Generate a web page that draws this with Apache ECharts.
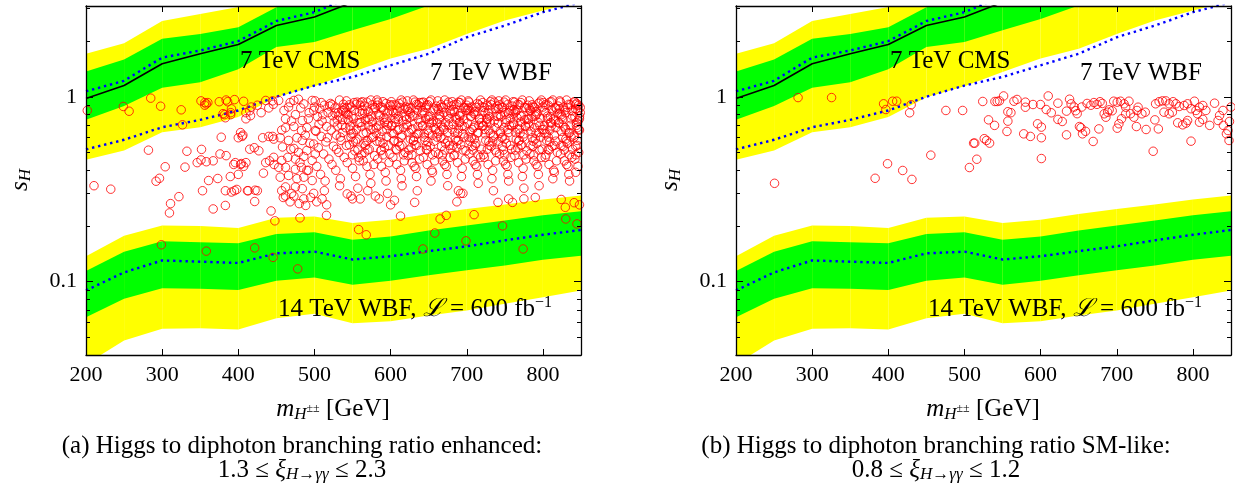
<!DOCTYPE html>
<html><head><meta charset="utf-8">
<script src="https://cdn.jsdelivr.net/npm/echarts@6/dist/echarts.min.js"></script>
<style>html,body{margin:0;padding:0;background:#fff}#c{width:1235px;height:485px}</style>
</head><body><div id="c"></div>
<script>
// ---- data ----
const massGrid = [200,250,300,350,400,450,500,550,600,650,700,750,800,850];
// 7 TeV CMS bands
const cmsYellowHi = [1.71,1.95,2.57,2.81,3.06,3.6,4.0,4.5,5.0,5.6,6.2,6.8,7.4,8.0];
const cmsGreenHi  = [1.37,1.59,2.06,2.19,2.38,3.05,3.4,3.8,4.2,4.7,5.2,5.7,6.2,6.8];
const cmsGreenLo  = [0.75,0.89,1.12,1.20,1.41,1.86,1.98,2.29,2.64,3.12,3.6,4.1,4.6,5.1];
const cmsYellowLo = [0.456,0.512,0.643,0.684,0.776,0.995,1.14,1.36,1.61,1.82,2.19,2.59,2.93,3.3];
const cmsObserved = [0.98,1.15,1.51,1.71,1.92,2.43,2.70,3.25,3.8,4.3,4.8,5.3,5.8,6.3];
const cmsExpected = [1.07,1.22,1.63,1.78,2.0,2.57,2.87,3.5,4.0,4.5,5.0,5.5,6.0,6.5];
// 7 TeV WBF expected
const wbf7Expected = [0.519,0.585,0.684,0.75,0.843,1.0,1.15,1.28,1.48,1.71,2.10,2.43,2.87,3.25];
// 14 TeV WBF bands
const wbf14YellowHi = [0.137,0.177,0.201,0.1995,0.195,0.221,0.225,0.207,0.216,0.232,0.247,0.261,0.278,0.292];
const wbf14GreenHi  = [0.114,0.145,0.165,0.163,0.161,0.181,0.185,0.168,0.175,0.189,0.201,0.214,0.228,0.240];
const wbf14Expected = [0.0894,0.112,0.130,0.128,0.126,0.142,0.145,0.1315,0.137,0.146,0.155,0.167,0.179,0.190];
const wbf14GreenLo  = [0.064,0.0806,0.092,0.0913,0.090,0.101,0.105,0.096,0.101,0.108,0.115,0.122,0.131,0.138];
const wbf14YellowLo = [0.0357,0.0479,0.0555,0.0559,0.055,0.0633,0.0668,0.0595,0.061,0.0655,0.0697,0.0757,0.0822,0.0894];

// scan points, panel (a): enhanced diphoton ratio  [m_H++ (GeV), s_H]
const pointsEnhanced = [
[201.7,.843],[210.5,.33],[232.5,.316],[249,.886],[256.6,.835],[285,.983],[282,.514],[298,.889],[292,.349],[296.5,.362],
[304,.418],[299,.158],[311,.264],[309.6,.235],[322,.288],[325,.85],[326.7,.705],[332.5,.507],[330,.416],[346,.44],
[351,.455],[358,.445],[367,.45],[351.7,.519],[353,.31],[351,.95],[356,.93],[360,.93],[356,.9],[358,.915],
[361,.352],[358,.146],[367,.247],[373,.361],[375,.94],[384,.96],[386,.94],[395,.965],[407,.945],[380,.81],
[382,.8],[390,.82],[377.6,.604],[376,.49],[384,.48],[389.5,.37],[400,.38],[394,.43],[407,.42],[404,.435],
[383,.31],[391,.305],[395,.31],[398,.315],[383,.258],[412,.31],[422,.312],[425,.31],[421.5,.271],[400,.6],
[406,.62],[403,.64],[410,.82],[415,.84],[417,.88],[445,.95],
[410,.76],[416,.79],[436,.955],[383,.77],[390,.8],[391,.86],[405,.61],[396,.44],[403,.43],[410,.44],
[413,.31],[415,.52],[421,.53],[427,.51],[433,.386],[432,.60],[440,.61],[445,.61],[436,.44],[441,.45],
[447,.43],[443,.241],[448,.213],[457,.31],[462,.29],[468,.27],[470,.30],[480,.264],[488.5,.258],[481,.221],
[478,.117],[503,.27],[510,.28],[516,.26],[515.8,.228],[421.5,.152],[445.6,.135],[440,.87],[446,.91],[430,.82],[425,.90],
[453,.955],[460,.843],[466,.88],[473,.955],[479,.97],[486,.915],[497,.955],[499,.843],[462,.76],[475,.80],
[484,.744],[492,.76],[462,.68],[473,.69],[483,.657],[490,.68],[501,.657],[446.5,.59],[455,.60],[466,.58],
[477,.60],[484,.58],[499,.555],[458,.535],[473,.525],[479,.50],[490,.512],[501,.49],[446.5,.47],[457,.452],
[465,.47],[475,.46],[486,.475],[497,.452],[453,.415],[462,.415],[475,.405],[483,.415],[490,.399],[455,.367],
[466,.375],[477,.36],[486,.367],[497,.352],[462,.325],[475,.325],[484,.318],[499,.30],[459,.285],[473,.29],[486,.28],[495,.285],
[468,.93],[482,.87],[493,.82],[470,.74],[488,.62],[494,.56],[481,.44],[469,.52],[457,.66],[492,.40],
[558,.191],[568,.179],[613,.226],[665,.218],[673,.228],[709.6,.23],[658,.183],[642.5,.150],[699,.166],[747,.20],
[774,.150],[824,.278],[841,.267],[848,.26],[829.4,.252],[830,.218],[844.7,.205],[631.6,.268],[755,.28],[760,.268],
[775,.28],[790,.285],[741,.268],[687,.27],[692,.30],[689,.31],[560,.28],[543,.298],[550,.28],[585,.28],[600,.26],
[605,.275],[570,.31],[580,.29],
[501,.95],[513,.90],[507,.86],[518,.82],[504,.78],[510,.74],[516,.69],[502,.65],[509,.61],[515,.57],[505,.53],[512,.49],[519,.46],[503,.42],[508,.38],[514,.35],[500,.88],[511,.80],[517,.60],[506,.71],[513,.31],[509,.93],
[521,.92],[533,.96],[527,.87],[538,.84],[524,.79],[530,.75],[536,.70],[522,.66],[529,.62],[535,.58],[525,.54],[532,.50],[539,.47],[523,.43],[528,.40],[534,.36],[520,.89],[531,.82],[537,.64],[526,.73],[533,.33],[529,.52],[538,.91],
[542,.95],[555,.91],[548,.88],[559,.83],[544,.80],[551,.76],[557,.72],[541,.68],[549,.63],[556,.59],[546,.55],[553,.51],[558,.47],[543,.44],[550,.41],[554,.37],[540,.86],[552,.93],[547,.66],[545,.74],[557,.32],[551,.57],[559,.45],[548,.29],
[561,.93],[574,.96],[566,.89],[578,.85],[563,.81],[570,.77],[576,.73],[562,.69],[568,.64],[575,.60],[565,.56],[572,.52],[579,.48],[564,.45],[569,.42],[573,.38],[560,.90],[571,.83],[577,.67],[567,.75],[574,.34],[570,.58],[578,.43],[563,.94],[566,.50],
[582,.96],[594,.92],[587,.88],[598,.84],[584,.80],[591,.77],[597,.72],[581,.68],[589,.65],[595,.61],[586,.57],[592,.53],[599,.49],[583,.46],[588,.42],[593,.39],[580,.87],[590,.94],[596,.70],[585,.74],[594,.35],[590,.56],[598,.44],[583,.90],[587,.51],[596,.30],
[601,.94],[614,.96],[607,.90],[618,.86],[604,.82],[610,.78],[616,.74],[602,.70],[609,.66],[615,.62],[605,.58],[612,.54],[619,.50],[603,.47],[608,.43],[613,.40],[600,.89],[611,.92],[617,.68],[606,.76],[614,.36],[610,.57],[618,.45],[602,.84],[607,.52],[615,.33],[604,.63],
[622,.95],[634,.91],[627,.87],[638,.93],[624,.83],[631,.79],[637,.75],[621,.71],[629,.67],[635,.63],[626,.59],[632,.55],[639,.51],[623,.48],[628,.44],[633,.41],[620,.88],[630,.96],[636,.69],[625,.77],[634,.37],[630,.58],[638,.46],[622,.85],[627,.53],[635,.31],[624,.64],[631,.42],
[641,.93],[653,.96],[647,.90],[658,.86],[644,.82],[650,.78],[656,.74],[642,.70],[649,.66],[655,.62],[645,.58],[652,.54],[659,.50],[643,.47],[648,.43],[654,.40],[640,.88],[651,.94],[657,.68],[646,.76],[653,.35],[649,.57],[658,.45],[642,.84],[647,.52],[655,.39],[644,.63],[651,.72],
[662,.95],[674,.91],[667,.88],[678,.84],[664,.80],[671,.96],[677,.76],[661,.72],[669,.68],[675,.64],[666,.60],[672,.56],[679,.52],[663,.49],[668,.45],[673,.42],[660,.89],[670,.82],[676,.70],[665,.78],[674,.38],[670,.59],[678,.47],[662,.86],[667,.54],[675,.33],[664,.65],[671,.43],
[681,.94],[693,.96],[687,.91],[698,.87],[684,.83],[690,.79],[696,.75],[682,.71],[689,.67],[695,.63],[685,.59],[692,.55],[699,.51],[683,.48],[688,.44],[694,.41],[680,.89],[691,.93],[697,.69],[686,.77],[693,.37],[689,.58],[698,.46],[682,.85],[687,.53],[695,.30],[684,.64],[691,.73],
[702,.95],[714,.92],[707,.88],[718,.96],[704,.84],[711,.80],[717,.76],[701,.72],[709,.68],[715,.64],[706,.60],[712,.56],[719,.52],[703,.49],[708,.45],[713,.42],[700,.90],[710,.83],[716,.70],[705,.78],[714,.38],[710,.59],[718,.47],[702,.87],[707,.54],[715,.34],[704,.65],[711,.43],
[721,.93],[733,.96],[727,.90],[738,.86],[724,.82],[730,.78],[736,.74],[722,.70],[729,.66],[735,.62],[725,.58],[732,.54],[739,.50],[723,.47],[728,.43],[734,.40],[720,.88],[731,.94],[737,.68],[726,.76],[733,.36],[729,.57],[738,.45],[722,.84],[727,.52],[735,.31],[724,.63],[731,.72],
[742,.95],[754,.91],[747,.88],[758,.84],[744,.80],[751,.96],[757,.76],[741,.72],[749,.68],[755,.64],[746,.60],[752,.56],[759,.52],[743,.49],[748,.45],[753,.42],[740,.89],[750,.82],[756,.70],[745,.78],[754,.38],[750,.59],[758,.47],[742,.86],[747,.54],[755,.35],[744,.65],[751,.43],
[761,.94],[773,.96],[767,.91],[778,.87],[764,.83],[770,.79],[776,.75],[762,.71],[769,.67],[775,.63],[765,.59],[772,.55],[779,.51],[763,.48],[768,.44],[774,.41],[760,.89],[771,.93],[777,.69],[766,.77],[773,.37],[769,.58],[778,.46],[762,.85],[767,.53],[775,.32],[764,.64],[771,.73],
[782,.95],[794,.92],[787,.88],[798,.96],[784,.84],[791,.80],[797,.76],[781,.72],[789,.68],[795,.64],[786,.60],[792,.56],[799,.52],[783,.49],[788,.45],[793,.42],[780,.90],[790,.83],[796,.70],[785,.78],[794,.38],[790,.59],[798,.47],[782,.87],[787,.54],[795,.33],[784,.65],[791,.43],
[801,.93],[813,.96],[807,.90],[818,.86],[804,.82],[810,.78],[816,.74],[802,.70],[809,.66],[815,.62],[805,.58],[812,.54],[819,.50],[803,.47],[808,.43],[814,.40],[800,.88],[811,.94],[817,.68],[806,.76],[813,.36],[809,.57],[818,.45],[802,.84],[807,.52],[815,.39],[804,.63],[811,.72],
[822,.95],[834,.91],[827,.88],[838,.84],[824,.80],[831,.96],[837,.76],[821,.72],[829,.68],[835,.64],[826,.60],[832,.56],[839,.52],[823,.49],[828,.45],[833,.42],[820,.89],[830,.82],[836,.70],[825,.78],[834,.38],[830,.59],[838,.47],[822,.86],[827,.54],[835,.35],[824,.65],[831,.43],
[841,.94],[847,.90],[843,.86],[849,.82],[842,.78],[846,.74],[844,.70],[848,.66],[841,.62],[845,.58],[843,.54],[847,.50],[842,.46],[846,.42],[844,.92],[848,.76],[845,.68],[843,.39],
[523,.905],[536,.845],[532,.785],[539,.875],[534,.605],[527,.815],[537,.755],[530,.695],
[543,.875],[556,.935],[549,.785],[552,.845],[546,.905],[559,.725],[541,.815],[554,.575],[547,.695],[551,.635],[557,.515],[544,.755],[550,.485],[555,.665],[542,.545],[548,.605],
[563,.845],[576,.905],[569,.935],[572,.755],[566,.815],[579,.875],[561,.725],[574,.665],[567,.545],[571,.695],[577,.605],[564,.635],[570,.515],[575,.785],[562,.485],[568,.575],
[583,.935],[596,.815],[589,.875],[592,.725],[586,.785],[599,.905],[581,.635],[594,.755],[587,.605],[591,.845],[597,.545],[584,.695],[590,.485],[595,.665],[582,.575],[588,.515],
[603,.905],[616,.935],[609,.845],[612,.875],[606,.725],[619,.785],[601,.695],[614,.605],[607,.815],[611,.665],[617,.485],[604,.575],[610,.755],[615,.545],[602,.635],[608,.515],
[623,.875],[636,.905],[629,.785],[632,.935],[626,.815],[639,.725],[621,.755],[634,.545],[627,.665],[631,.605],[637,.635],[624,.515],[630,.575],[635,.845],[622,.695],[628,.485],
[643,.935],[656,.845],[649,.905],[652,.785],[646,.875],[659,.665],[641,.815],[654,.725],[647,.545],[651,.755],[657,.575],[644,.605],[650,.635],[655,.485],[642,.695],[648,.515],
[663,.845],[676,.935],[669,.875],[672,.725],[666,.905],[679,.815],[661,.605],[674,.785],[667,.695],[671,.515],[677,.545],[664,.755],[670,.665],[675,.575],[662,.635],[668,.485],
[683,.905],[696,.875],[689,.935],[692,.815],[686,.755],[699,.845],[681,.665],[694,.695],[687,.575],[691,.785],[697,.605],[684,.485],[690,.725],[695,.515],[682,.545],[688,.635],
[703,.935],[716,.905],[709,.815],[712,.875],[706,.785],[719,.725],[701,.845],[714,.635],[707,.665],[711,.545],[717,.755],[704,.575],[710,.695],[715,.485],[702,.605],[708,.515],
[723,.875],[736,.935],[729,.845],[732,.905],[726,.725],[739,.785],[721,.695],[734,.575],[727,.755],[731,.635],[737,.515],[724,.665],[730,.545],[735,.605],[722,.485],[728,.815],
[743,.905],[756,.845],[749,.935],[752,.755],[746,.875],[759,.695],[741,.785],[754,.665],[747,.605],[751,.725],[757,.545],[744,.635],[750,.485],[755,.815],[742,.575],[748,.515],
[763,.935],[776,.875],[769,.905],[772,.785],[766,.845],[779,.755],[761,.725],[774,.605],[767,.665],[771,.545],[777,.695],[764,.515],[770,.635],[775,.485],[762,.815],[768,.575],
[783,.845],[796,.935],[789,.875],[792,.815],[786,.905],[799,.665],[781,.755],[794,.725],[787,.575],[791,.635],[797,.605],[784,.545],[790,.785],[795,.515],[782,.695],[788,.485],
[803,.905],[816,.875],[809,.935],[812,.845],[806,.785],[819,.815],[801,.665],[814,.755],[807,.605],[811,.695],[817,.575],[804,.485],[810,.725],[815,.545],[802,.635],[808,.515],
[823,.935],[836,.905],[829,.845],[832,.875],[826,.755],[839,.785],[821,.725],[834,.635],[827,.695],[831,.575],[837,.605],[824,.545],[830,.665],[835,.485],[822,.815],[828,.515],
[843,.905],[846,.845],[842,.935],[848,.785],[844,.725],[847,.665],[841,.605],[845,.545],[849,.875],[843,.485]
];
// scan points, panel (b): SM-like diphoton ratio
const pointsSMlike = [
[250.6,.34],[281.5,.99],[325.5,.99],[382.7,.362],[393.8,.916],[396.8,.853],[399,.434],[405.7,.946],[411,.946],[418.9,.399],
[428,.819],[430,.905],[431,.357],[455.8,.483],[475.6,.843],[497.6,.843],[506.5,.414],[512,.561],[513.5,.561],[516.2,.459],
[524,.943],[526,.593],[529,.58],[533,.561],[531.6,.75],[539.5,.70],[540,.943],[543,.943],[546,.95],[551.4,1.01],
[555.8,.649],[557,.83],[561,.82],[557,.738],[565,.946],[569,.967],[577.8,.63],[580,.935],[580,.878],[586.6,.61],
[590,.908],[596,.714],[601,.685],[599.8,.908],[601,.60],[601,.463],[607.3,.853],[610,1.01],[614,.819],[622.7,.923],
[622.7,.754],[628.4,.735],[634,.622],[634,.836],[638,.97],[640,.916],[644,.88],[646,.84],[648,.81],[651,.69],
[653,.68],[655,.63],[659,.65],[654,.88],[661,.92],[666,.90],[670,.93],[674,.91],[678,.94],[681,.92],
[669,.573],[676.5,.67],[683.5,.809],[688,.825],[690,.85],[694,.84],[685.7,.775],[696,.946],[700.6,.935],[705,.946],
[709.5,.916],[711.7,.878],[716,.946],[700.6,.676],[702.8,.714],[706.3,.76],[711.7,.809],[718,.809],[722.5,.775],[725.8,.69],
[728,.878],[726.6,.843],[733,.809],[737.4,.825],[738.5,.665],[747.8,.507],[750,.75],[754.6,.67],[751,.916],[755.6,.94],
[760,.95],[764.4,.95],[768.8,.916],[774,.94],[777.7,.916],[762,.825],[768.8,.809],[773,.825],[780,.723],[786.6,.705],
[791,.72],[793,.744],[782,.886],[788.5,.897],[793,.916],[797.5,.861],[802,.946],[804,.843],[806,.809],[797.5,.575],
[808.6,.878],[813,.897],[817,.843],[822,.70],[808.6,.728],[813,.754],[828.4,.923],[833,.744],[835,.792],[839.5,.843],
[840,.70],[844,.63],[846,.657],[847.4,.58],[848,.735],[850,.88],[852,.91]
];
const xTickLabels = [200,300,400,500,600,700,800];
const xTickMarks = [300,400,500,600,700,800];
const yTickLabels = [0.1,1];
const yMinorTicks = [0.05,0.06,0.07,0.08,0.09,0.2,0.3,0.4,0.5,0.6,0.7,0.8,0.9,2,3];

// ---- chart ----
const FONT = "'Liberation Serif','DejaVu Serif',serif";
const pair = arr => massGrid.map((m,i)=>[m,arr[i]]);

function band(lo, hi, color, gi) {
  return {
    type:'custom', xAxisIndex: gi*2, yAxisIndex: gi*4, silent:true, z:1,
    data:[[500,1]], encode:{x:0,y:1},
    renderItem(params, api) {
      const cs = params.coordSys;
      const children = [];
      for (let i=0;i<massGrid.length-1;i++){
        const pts=[api.coord([massGrid[i],lo[i]]), api.coord([massGrid[i+1],lo[i+1]]),
                   api.coord([massGrid[i+1],hi[i+1]]), api.coord([massGrid[i],hi[i]])];
        children.push({type:'polygon', shape:{points:pts}, style:{fill:color}});
      }
      return {type:'group', children,
        clipPath:{type:'rect', shape:{x:cs.x,y:cs.y,width:cs.width,height:cs.height}}};
    }
  };
}
function curve(arr, gi, style) {
  return {type:'line', xAxisIndex: gi*2, yAxisIndex: gi*4, data: pair(arr), showSymbol:false,
    symbol:'none', silent:true, z:2, lineStyle: style, clip:true};
}
const dotted = {color:'#0000ff', width:2.4, type:[2.4,3.8], cap:'butt'};
const solid = {color:'#000', width:1.6};

function xAxes(gi) {
  const base = {gridIndex:gi, type:'value', min:200, max:850, z:10, splitLine:{show:false},
    axisLine:{show:true, onZero:false, lineStyle:{color:'#000', width:1.3}},
    axisTick:{show:true, inside:true, length:6, customValues:xTickMarks, lineStyle:{color:'#000', width:1}}};
  return [
    Object.assign({}, base, {position:'bottom',
      axisLabel:{show:true, customValues:xTickLabels, color:'#000', fontFamily:FONT, fontSize:22, margin:9}}),
    Object.assign({}, base, {position:'top', axisLabel:{show:false}})
  ];
}
function yAxes(gi) {
  const base = {gridIndex:gi, type:'log', logBase:10, min:0.04, max:3.1, z:10, splitLine:{show:false},
    minorTick:{show:false}, minorSplitLine:{show:false}};
  const major = pos => Object.assign({}, base, {position:pos,
    axisLine:{show:true, onZero:false, lineStyle:{color:'#000', width:1.3}},
    axisTick:{show:true, inside:true, length:7, customValues:yTickLabels, lineStyle:{color:'#000'}},
    axisLabel: pos==='left' ? {show:true, customValues:yTickLabels, color:'#000', fontFamily:FONT, fontSize:22, margin:9,
      formatter: v => String(+(+v).toPrecision(3))} : {show:false}});
  const minor = pos => Object.assign({}, base, {position:pos, offset:0,
    axisLine:{show:false},
    axisTick:{show:true, inside:true, length:4, customValues:yMinorTicks, lineStyle:{color:'#000'}},
    axisLabel:{show:false}});
  return [major('left'), minor('left'), major('right'), minor('right')];
}

const series = [];
[0,1].forEach(gi => {
  series.push(band(cmsYellowLo, cmsYellowHi, '#ffff00', gi));
  series.push(band(cmsGreenLo, cmsGreenHi, '#00ff00', gi));
  series.push(band(wbf14YellowLo, wbf14YellowHi, '#ffff00', gi));
  series.push(band(wbf14GreenLo, wbf14GreenHi, '#00ff00', gi));
  series.push(curve(cmsObserved, gi, solid));
  series.push(curve(cmsExpected, gi, dotted));
  series.push(curve(wbf7Expected, gi, dotted));
  series.push(curve(wbf14Expected, gi, dotted));
  series.push({type:'scatter', xAxisIndex: gi*2, yAxisIndex: gi*4, z:3, silent:true, clip:true,
    data: gi===0 ? pointsEnhanced : pointsSMlike, symbol:'circle', symbolSize:8.5,
    itemStyle:{color:'rgba(0,0,0,0)', borderColor:'#ff0000', borderWidth:1}});
});

function txt(x, y, text, opts) {
  return {type:'text', x, y, z:20, silent:true,
    style: Object.assign({text, fill:'#000', font:`25px ${FONT}`, verticalAlign:'middle', align:'left'}, opts||{})};
}
const richMain = {
  i:{fontFamily:FONT, fontStyle:'italic', fontSize:25, lineHeight:28},
  sup:{fontFamily:FONT, fontSize:16, verticalAlign:'top', lineHeight:15},
  sub:{fontFamily:FONT, fontStyle:'italic', fontSize:17, verticalAlign:'bottom', lineHeight:16},
  pm:{fontFamily:FONT, fontSize:12, verticalAlign:'middle', lineHeight:12},
  n:{fontFamily:FONT, fontSize:25, lineHeight:28}
};
const graphics = [];
[0, 650].forEach((dx, k) => {
  graphics.push(txt(240+dx, 61, '7 TeV CMS'));
  graphics.push(txt(430+dx, 73, '7 TeV WBF'));
  graphics.push({type:'text', x:278+dx, y:309, z:20, silent:true,
    style:{text:'{n|14 TeV WBF, }{i|ℒ}{n| = 600 fb}{sup|−1}', rich:richMain, verticalAlign:'middle', align:'left', fill:'#000'}});
  graphics.push({type:'text', x:333+dx, y:409, z:20, silent:true,
    style:{text:'{i|m}{sub|H}{pm|±±}{n| [GeV]}', rich:richMain, verticalAlign:'middle', align:'center', fill:'#000'}});
  graphics.push({type:'text', x:20+dx, y:180, z:20, silent:true, rotation:Math.PI/2,
    style:{text:'{i|s}{sub|H}', rich:richMain, verticalAlign:'middle', align:'center', fill:'#000'}});
  const cx = k===0 ? 302 : 936;
  graphics.push(txt(cx, 446, k===0 ? '(a) Higgs to diphoton branching ratio enhanced:' : '(b) Higgs to diphoton branching ratio SM-like:',
    {align:'center', font:`25px ${FONT}`}));
  graphics.push({type:'text', x:cx, y:470, z:20, silent:true,
    style:{text: k===0 ? '{n|1.3 ≤ }{i|ξ}{sub|H→γγ}{n| ≤ 2.3}' : '{n|0.8 ≤ }{i|ξ}{sub|H→γγ}{n| ≤ 1.2}',
      rich:{i:{fontFamily:FONT, fontStyle:'italic', fontSize:25, lineHeight:26}, n:{fontFamily:FONT, fontSize:25, lineHeight:26},
        sub:{fontFamily:FONT, fontStyle:'italic', fontSize:17, verticalAlign:'bottom', lineHeight:15}},
      verticalAlign:'middle', align:'center', fill:'#000'}});
});

const chart = echarts.init(document.getElementById('c'), null, {renderer:'canvas'});
chart.setOption({
  animation:false,
  backgroundColor:'#fff',
  grid:[{left:86, top:6, width:495, height:349}, {left:736, top:6, width:495, height:349}],
  xAxis:[...xAxes(0), ...xAxes(1)],
  yAxis:[...yAxes(0), ...yAxes(1)],
  series,
  graphic: graphics
});
</script></body></html>
